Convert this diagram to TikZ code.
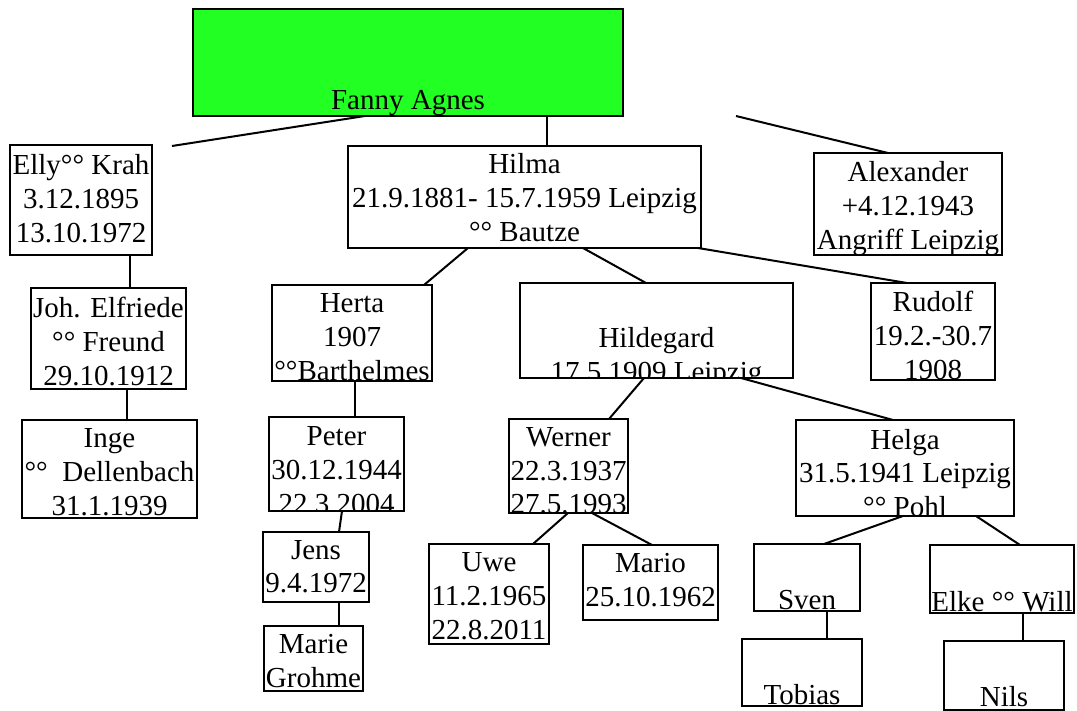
\documentclass[tikz,border=0pt]{standalone}
\usepackage{fontspec}
\setmainfont{Liberation Serif}
\usetikzlibrary{calc}
\definecolor{fannygreen}{RGB}{34,255,34}
\tikzset{
  pbox/.style={draw, line width=2pt, rectangle, inner sep=0pt, outer sep=0pt, anchor=north west},
  ptxt/.style={draw=none, fill=none, minimum width=0pt, minimum height=0pt, inner sep=0pt, outer sep=0pt, align=center, anchor=north, font=\fontsize{29}{33.7}\selectfont},
  link/.style={line width=2pt},
}
% #1 extra options, #2 name, #3 x, #4 y (top), #5 width, #6 height, #7 first baseline offset, #8 text
\newcommand\pers[8][]{%
  \node[pbox, #1, minimum width=#5pt, minimum height=#6pt,
    path picture={\node[ptxt] (#2-t) at ([yshift=22pt-#7pt]path picture bounding box.north) {\rule{0pt}{22pt}#8};}]
    (#2) at (#3,#4) {};}
\begin{document}
\begin{tikzpicture}[x=1pt,y=-1pt]
\useasboundingbox (0,0) rectangle (1077,711);
\fill[white] (0,0) rectangle (1077,711);

\pers[fill=fannygreen]{fanny}{193}{9}{430}{107}{101}{Fanny Agnes}
\pers{elly}{10}{145}{142}{110}{30}{Elly°° Krah\\3.12.1895\\13.10.1972}
\pers{hilma}{348}{146}{353}{102}{28}{Hilma\\21.9.1881- 15.7.1959 Leipzig\\°° Bautze}
\pers{alexander}{814}{153}{188}{102}{28.7}{Alexander\\+4.12.1943\\Angriff Leipzig}
\pers{joh}{31}{288}{155}{101}{30}{Joh. Elfriede\\°° Freund\\29.10.1912}
\pers{herta}{272}{285}{160}{96}{27.7}{Herta\\1907\\°°Barthelmes}
\pers{hildegard}{520}{283}{273}{95}{65}{Hildegard\\17.5.1909 Leipzig}
\pers{rudolf}{871}{283}{124}{97}{28.7}{Rudolf\\19.2.-30.7\\1908}
\pers{inge}{22}{420}{175}{98}{27.7}{Inge\\°°\ \ Dellenbach\\31.1.1939}
\pers{peter}{269}{417}{135}{94}{28.7}{Peter\\30.12.1944\\22.3.2004}
\pers{werner}{509}{419}{119}{94}{27.4}{Werner\\22.3.1937\\27.5.1993}
\pers{helga}{796}{420}{218}{96}{29}{Helga\\31.5.1941 Leipzig\\°° Pohl}
\pers{jens}{263}{532}{106}{70}{27}{Jens\\9.4.1972}
\pers{uwe}{429}{544}{120}{100}{27.7}{Uwe\\11.2.1965\\22.8.2011}
\pers{mario}{583}{545}{135}{75}{27.3}{Mario\\25.10.1962}
\pers{sven}{754}{544}{106}{67}{65}{Sven}
\pers{elke}{930}{545}{144}{68}{66}{Elke °° Will}
\pers{marie}{264}{626}{99}{65}{27.5}{Marie\\Grohme}
\pers{tobias}{742}{639}{120}{67}{65}{Tobias}
\pers{nils}{944}{641}{120}{69}{65}{Nils}

\coordinate (alexfree) at (736,116);

\draw[link] ([xshift=172pt]fanny.south west) -- ([xshift=20pt,yshift=-1pt]elly.north east);
\draw[link] ([xshift=354pt]fanny.south west) -- ([xshift=199pt]hilma.north west);
\draw[link] (alexfree) -- ([xshift=74pt]alexander.north west);
\draw[link] ([xshift=120pt]elly.south west) -- ([xshift=99pt]joh.north west);
\draw[link] ([xshift=96pt]joh.south west) -- ([xshift=105pt]inge.north west);
\draw[link] ([xshift=120pt]hilma.south west) -- ([xshift=152pt]herta.north west);
\draw[link] ([xshift=235pt]hilma.south west) -- ([xshift=126pt]hildegard.north west);
\draw[link] ([xshift=350pt]hilma.south west) -- ([xshift=36pt]rudolf.north west);
\draw[link] ([xshift=83pt]herta.south west) -- ([xshift=86pt]peter.north west);
\draw[link] ([xshift=73pt]peter.south west) -- ([xshift=76pt]jens.north west);
\draw[link] ([xshift=76pt]jens.south west) -- ([xshift=75pt]marie.north west);
\draw[link] ([xshift=124pt]hildegard.south west) -- ([xshift=100pt]werner.north west);
\draw[link] ([xshift=221pt]hildegard.south west) -- ([xshift=97pt]helga.north west);
\draw[link] ([xshift=59pt]werner.south west) -- ([xshift=104pt]uwe.north west);
\draw[link] ([xshift=83pt]werner.south west) -- ([xshift=69pt]mario.north west);
\draw[link] ([xshift=107pt]helga.south west) -- ([xshift=70pt]sven.north west);
\draw[link] ([xshift=180pt]helga.south west) -- ([xshift=90pt]elke.north west);
\draw[link] ([xshift=73pt]sven.south west) -- ([xshift=85pt]tobias.north west);
\draw[link] ([xshift=93pt]elke.south west) -- ([xshift=79pt]nils.north west);
\end{tikzpicture}
\end{document}
